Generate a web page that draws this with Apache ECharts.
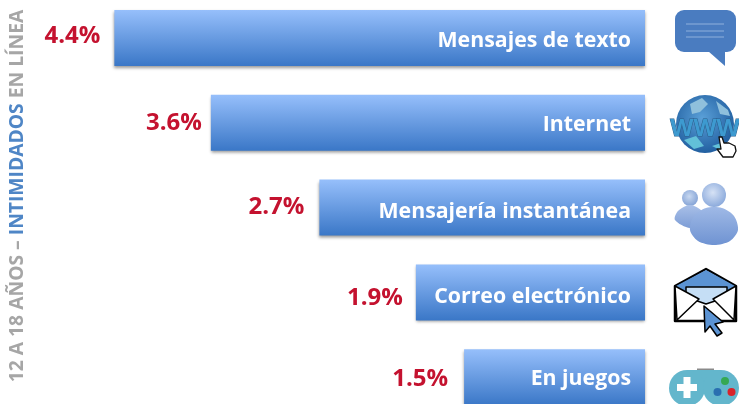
<!DOCTYPE html>
<html>
<head>
<meta charset="utf-8">
<style>
  html, body { margin: 0; padding: 0; background: #fff; }
  #chart { width: 739px; height: 404px; overflow: hidden; }
</style>
<script src="https://cdn.jsdelivr.net/npm/echarts@6/dist/echarts.min.js"></script>
</head>
<body>
<div id="chart"></div>
<script>
var categories = ['Mensajes de texto', 'Internet', 'Mensajería instantánea', 'Correo electrónico', 'En juegos'];
var percentValues = [4.4, 3.6, 2.7, 1.9, 1.5];
// las etiquetas del original no estan alineadas igual en cada barra
var labelOffsets = [[-1, -2], [4, 0], [-2, 0], [0, 6], [-3, 2]];
var nameOffsets = [[0, 3], [0, 2], [0, 4], [0, 5], [0, 2]];

var FONT = '"Open Sans", "Noto Sans", sans-serif';
var GREY = '#a6a6a6';
var BLUE = '#4f86c6';

// iconos de la derecha
function poly(points, fill, stroke, width, smooth) {
    return {
        type: 'polygon',
        shape: { points: points, smooth: smooth || 0 },
        style: { fill: fill || 'none', stroke: stroke || 'none', lineWidth: width || 0, lineJoin: 'round' }
    };
}
function line(x1, y1, x2, y2, stroke, width) {
    return {
        type: 'line',
        shape: { x1: x1, y1: y1, x2: x2, y2: y2 },
        style: { stroke: stroke, lineWidth: width }
    };
}
function circle(cx, cy, r, fill) {
    return { type: 'circle', shape: { cx: cx, cy: cy, r: r }, style: { fill: fill } };
}
function vGrad(top, bottom) {
    return new echarts.graphic.LinearGradient(0, 0, 0, 1, [
        { offset: 0, color: top },
        { offset: 1, color: bottom }
    ]);
}
function rGrad(inner, outer) {
    return new echarts.graphic.RadialGradient(0.45, 0.4, 0.65, [
        { offset: 0, color: inner },
        { offset: 1, color: outer }
    ]);
}

var chatIcon = [
    { type: 'rect', shape: { x: 675, y: 10, width: 61, height: 42, r: 9 }, style: { fill: '#4a7cc0' } },
    poly([[708, 51], [725, 51], [725, 66]], '#4a7cc0'),
    line(686, 24, 724, 24, '#8fb0dc', 1),
    line(686, 31, 724, 31, '#8fb0dc', 1),
    line(686, 37, 724, 37, '#8fb0dc', 1)
];

var globeIcon = [
    { type: 'circle', shape: { cx: 705, cy: 124, r: 29 }, style: { fill: rGrad('#5aa0d8', '#1d5a9c') } },
    poly([[690, 104], [702, 98], [708, 104], [700, 112], [692, 114]], '#8fc0dc'),
    poly([[716, 101], [728, 110], [730, 116], [720, 114]], '#8fc0dc'),
    poly([[684, 140], [696, 136], [704, 146], [694, 149]], '#62c0d8'),
    poly([[712, 146], [724, 142], [720, 150]], '#62c0d8'),
    {
        type: 'text',
        style: {
            x: 705, y: 129, text: 'WWW', align: 'center', verticalAlign: 'middle',
            font: 'bold 24px "Liberation Sans Narrow", ' + FONT,
            fill: '#3d9ad0', stroke: '#2a5f8a', lineWidth: 1
        }
    },
    poly([[719, 137], [722, 137], [724, 143], [729, 143], [735, 146], [736, 151], [733, 157], [723, 157], [717, 149], [721, 149]],
        '#ffffff', '#111111', 1.3)
];

var peopleIcon = [
    circle(690, 198, 8, rGrad('#c8d8f0', '#7f9fd4')),
    poly([[675, 220], [678, 211], [690, 205], [702, 211], [704, 222], [690, 228]], vGrad('#a9c0e8', '#7d9dd6'), null, 0, 0.3),
    poly([[690, 230], [694, 216], [706, 208], [722, 208], [734, 216], [738, 230], [730, 241], [714, 245], [698, 241]], vGrad('#9fb9e6', '#6f93d2'), null, 0, 0.3),
    circle(714, 195, 12, rGrad('#d6e2f5', '#86a6da'))
];

var envelopeIcon = [
    poly([[675, 286], [706, 269], [736, 286], [736, 321], [675, 321]], '#ffffff', '#000000', 2.5),
    poly([[676, 286], [706, 270], [735, 286], [706, 304]], '#5b93d3'),
    poly([[686, 287], [727, 287], [727, 297], [706, 304], [686, 297]], '#c5def5', '#000000', 1.5),
    poly([[675, 286], [699, 299], [677, 320]], '#ffffff', '#000000', 1.5),
    poly([[736, 286], [713, 299], [734, 320]], '#ffffff', '#000000', 1.5),
    poly([[704, 306], [723, 322], [715, 324], [722, 333], [717, 336], [710, 326], [705, 332]], '#5b93d3', '#000000', 1.5)
];

var gamepadIcon = [
    { type: 'rect', shape: { x: 697, y: 368.5, width: 17, height: 2 }, style: { fill: '#8a8a8a' } },
    { type: 'rect', shape: { x: 687, y: 370, width: 34, height: 21 }, style: { fill: '#63b6cc' } },
    circle(687, 388, 18, '#63b6cc'),
    circle(721, 388, 18, '#63b6cc'),
    { type: 'rect', shape: { x: 677, y: 384, width: 20, height: 7 }, style: { fill: '#ffffff' } },
    { type: 'rect', shape: { x: 683.5, y: 377, width: 7, height: 21 }, style: { fill: '#ffffff' } },
    circle(725, 381, 4, '#35a853'),
    circle(717.5, 392, 4, '#2a6fb0'),
    circle(731.5, 392, 4, '#d8232a')
];

var option = {
    backgroundColor: '#ffffff',
    animation: false,
    grid: { left: 42, right: 94, top: -4.4, height: 424, outerBoundsMode: 'none', containLabel: false },
    xAxis: {
        type: 'value',
        min: 0,
        max: 5,
        inverse: true,
        show: false
    },
    yAxis: {
        type: 'category',
        data: categories,
        inverse: true,
        axisLine: { show: false },
        axisTick: { show: false },
        axisLabel: { show: false }
    },
    series: [
        {
            type: 'bar',
            data: percentValues.map(function (v, i) {
                return { value: v, label: { offset: labelOffsets[i] } };
            }),
            barWidth: 56,
            barGap: '-100%',
            itemStyle: {
                color: vGrad('#96bffb', '#3a77c7'),
                shadowColor: 'rgba(0,0,0,0.4)',
                shadowBlur: 3,
                shadowOffsetY: 2
            },
            label: {
                show: true,
                position: 'left',
                distance: 13,
                formatter: function (p) { return p.value.toFixed(1) + '%'; },
                color: '#c4122f',
                fontFamily: FONT,
                fontWeight: 'bold',
                fontSize: 24
            }
        },
        {
            // solo lleva el nombre dentro de la barra
            type: 'bar',
            data: percentValues.map(function (v, i) {
                return { value: v, label: { offset: nameOffsets[i] } };
            }),
            barWidth: 56,
            barGap: '-100%',
            itemStyle: { color: 'transparent' },
            label: {
                show: true,
                position: 'insideRight',
                distance: 14,
                formatter: '{b}',
                color: '#ffffff',
                fontFamily: FONT,
                fontWeight: 'bold',
                fontSize: 21.3
            }
        }
    ],
    graphic: [
        {
            type: 'text',
            x: 18,
            y: 196,
            rotation: Math.PI / 2,
            style: {
                text: '{g|12 A 18 AÑOS – }{b|INTIMIDADOS}{g| EN LÍNEA}',
                align: 'center',
                verticalAlign: 'middle',
                rich: {
                    g: { fill: GREY, font: 'bold 19.3px ' + FONT },
                    b: { fill: BLUE, font: 'bold 19.3px ' + FONT }
                }
            }
        },
        { type: 'group', children: chatIcon },
        { type: 'group', children: globeIcon },
        { type: 'group', children: peopleIcon },
        { type: 'group', children: envelopeIcon },
        { type: 'group', children: gamepadIcon }
    ]
};

var myChart = echarts.init(document.getElementById('chart'));
myChart.setOption(option);
</script>
</body>
</html>
